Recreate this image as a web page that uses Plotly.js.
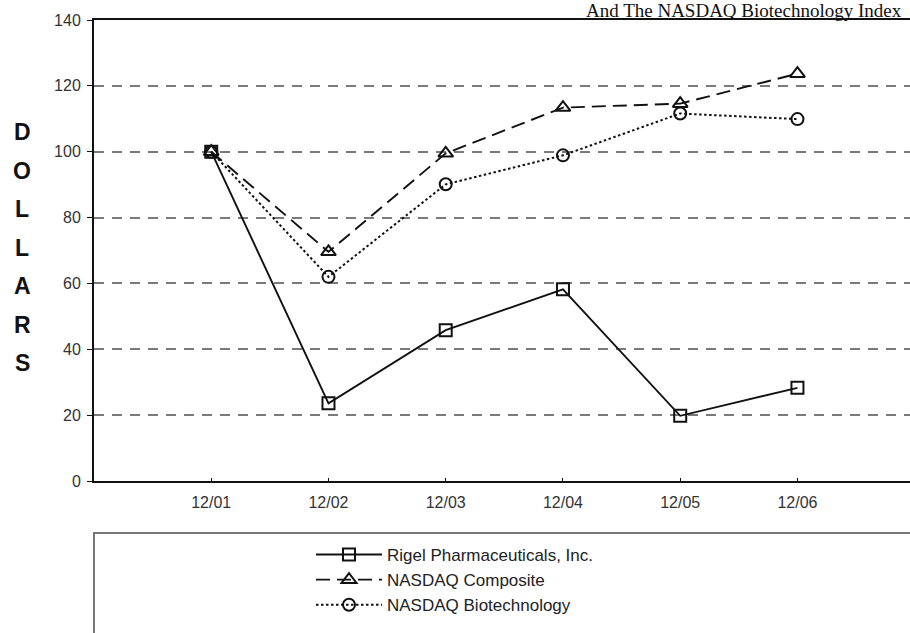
<!DOCTYPE html>
<html><head><meta charset="utf-8">
<script src="https://cdn.plot.ly/plotly-3.0.1.min.js"></script>
<style>html,body{margin:0;padding:0;background:#fff;overflow:hidden}</style>
</head><body><div id="chart" style="width:910px;height:633px"></div>
<script>
const periods = ["12/01","12/02","12/03","12/04","12/05","12/06"];
const rigel = [100, 23.6, 45.8, 58.2, 19.8, 28.3];
const nasdaqComposite = [100, 69.6, 99.5, 113.4, 114.6, 123.7];
const nasdaqBiotech = [100, 62.0, 90.1, 98.9, 111.6, 109.9];
const seriesNames = ["Rigel Pharmaceuticals, Inc.", "NASDAQ Composite", "NASDAQ Biotechnology"];
const yTicks = [0, 20, 40, 60, 80, 100, 120, 140];
const yAxisLetters = "DOLLARS";
const chartTitle = "And The NASDAQ Biotechnology Index";

const W = 910, H = 633, ML = 94, MR = 0, MT = 20, MB = 152;
const pw = W - ML - MR, ph = H - MT - MB;
const px2x = p => (p - ML) / pw;
const px2y = p => (H - MB - p) / ph;

const traces = [
  {x: periods, y: rigel, name: seriesNames[0], legendgroup: "a", mode: "lines+markers",
   line: {color: "#111", width: 1.9, dash: "solid"},
   marker: {symbol: "square-open", size: 12, color: "#111", line: {width: 2, color: "#111"}}},
  {x: periods, y: nasdaqComposite, name: seriesNames[1], legendgroup: "b", mode: "lines+markers",
   line: {color: "#111", width: 1.9, dash: "14px,7px"},
   marker: {symbol: "triangle-up-open", size: 13, color: "#111", line: {width: 2, color: "#111"}}},
  {x: periods, y: nasdaqBiotech, name: seriesNames[2], legendgroup: "c", mode: "lines+markers",
   line: {color: "#111", width: 2, dash: "2.5px,2.5px"},
   marker: {symbol: "circle-open", size: 12, color: "#111", line: {width: 2, color: "#111"}}}
];

const annotations = [];
for (let i = 0; i < yAxisLetters.length; i++) {
  annotations.push({text: yAxisLetters[i], xref: "paper", yref: "paper",
    x: px2x(22), y: px2y(132 + i * 38.5), xanchor: "center", yanchor: "middle",
    showarrow: false, font: {family: "Liberation Sans, Arial, sans-serif", size: 23, color: "#111", weight: "bold"}});
}
annotations.push({text: chartTitle, xref: "paper", yref: "paper", x: px2x(904), y: px2y(11),
  xanchor: "right", yanchor: "middle", showarrow: false,
  font: {family: "Liberation Serif, Times New Roman, serif", size: 19, color: "#111"}});

const layout = {
  width: W, height: H,
  margin: {l: ML, r: MR, t: MT, b: MB, pad: 0},
  paper_bgcolor: "#fff", plot_bgcolor: "#fff",
  showlegend: true,
  legend: {x: px2x(311), y: px2y(537), xanchor: "left", yanchor: "top",
    font: {family: "Liberation Sans, Arial, sans-serif", size: 17, color: "#222"},
    tracegroupgap: 0, itemwidth: 66, bgcolor: "rgba(0,0,0,0)"},
  xaxis: {type: "category", range: [-1, 5.96], showgrid: false, zeroline: false,
    showline: true, linecolor: "#111", linewidth: 2, mirror: true,
    ticks: "inside", ticklen: 3, tickcolor: "#111", tickwidth: 1, ticklabelstandoff: 6,
    tickfont: {family: "Liberation Sans, Arial, sans-serif", size: 16, color: "#333"}},
  yaxis: {range: [0, 140], tickvals: yTicks, showgrid: true, gridcolor: "#7a7a7a",
    gridwidth: 2, griddash: "10px,8px", zeroline: false,
    showline: true, linecolor: "#111", linewidth: 2,
    ticks: "outside", ticklen: 5, tickcolor: "#111", tickwidth: 1, ticklabelstandoff: 3,
    tickfont: {family: "Liberation Sans, Arial, sans-serif", size: 16, color: "#333"}},
  shapes: [{type: "rect", xref: "paper", yref: "paper", x0: 0, x1: 1.2,
    y0: px2y(533), y1: px2y(700), line: {color: "#777", width: 2}, fillcolor: "rgba(0,0,0,0)"}],
  annotations: annotations
};

Plotly.newPlot("chart", traces, layout, {displayModeBar: false, staticPlot: true});
</script></body></html>
